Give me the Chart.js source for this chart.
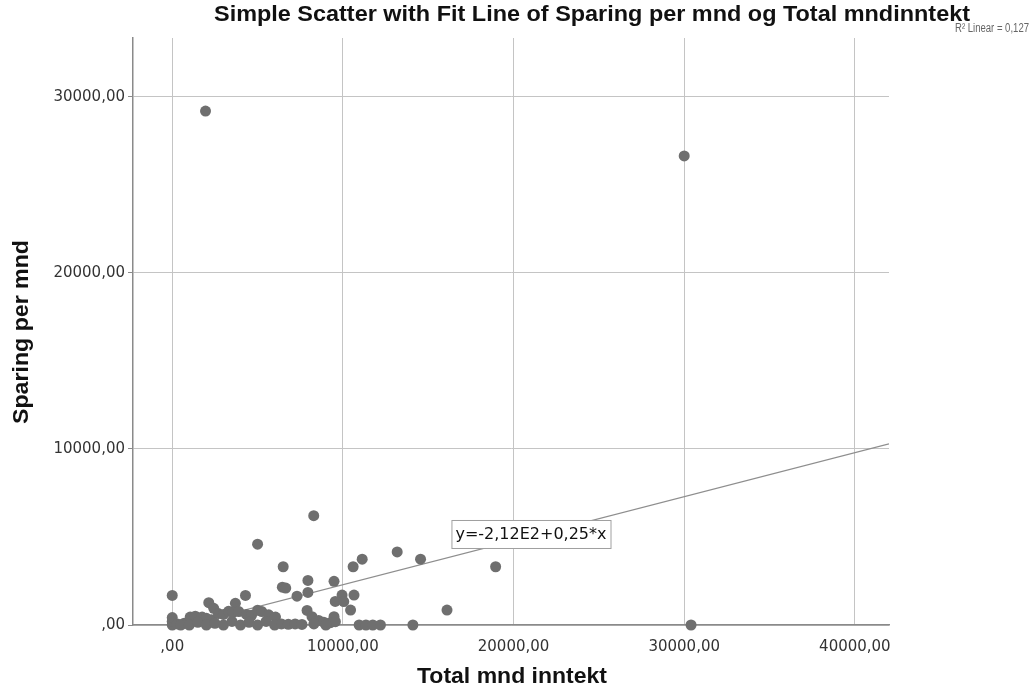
<!DOCTYPE html>
<html>
<head>
<meta charset="utf-8">
<script src="https://cdn.jsdelivr.net/npm/chart.js@4.4.1/dist/chart.umd.min.js"></script>
<style>
  html, body { margin: 0; padding: 0; background: #fff; }
</style>
</head>
<body>
<canvas id="scatter" width="1031" height="690"></canvas>
<script>
// Total mnd inntekt (x) and Sparing per mnd (y)
const income = [
  1950, 30000, 30400,
  8290, 5000, 13180, 11130, 14550, 18950, 6500, 10600, 16100,
  7950, 9480, 6450, 6650, 7950, 7310, 9950, 10650, 0, 4290,
  2140, 3700, 9550, 10050, 2430, 10450, 7900, 8190, 9480, 8580, 8880, 9270, 9560,
  0, 0, 0, 300, 700, 1050, 1350, 1750, 2000, 2300, 2700, 3000, 3300, 3550,
  3900, 4350, 4650, 5000, 5250, 5650, 6050,
  500, 1000, 1500, 2000, 2500, 3000, 3500, 4000, 4500, 5000, 5500, 6000,
  6400, 6800, 7200, 7600, 8300, 9000,
  10950, 11350, 11750, 12200, 14100
];
const savings = [
  29200, 26650, 0,
  6210, 4590, 4150, 3740, 3740, 3310, 3310, 3310, 850,
  2530, 2480, 2150, 2100, 1850, 1640, 1700, 1700, 1680, 1680,
  1270, 1230, 1340, 1330, 950, 850, 830, 470, 470, 260, 160, 130, 190,
  0, 200, 420, 60, 100, 450, 500, 450, 380, 300, 650, 600, 780, 720,
  760, 600, 550, 840, 760, 580, 450,
  0, 0, 150, 0, 100, 0, 200, 0, 150, 0, 200, 0,
  60, 40, 60, 30, 60, 0,
  0, 0, 0, 0, 0
];

const xTicks = [0, 10000, 20000, 30000, 40000];
const yTicks = [0, 10000, 20000, 30000];

// fit line as printed in the chart
const fitIntercept = -212;
const fitSlope = 0.25;
const fitRange = [0, 42000];
const fitLabel = "y=-2,12E2+0,25*x";
const fitLabelAt = [16360, 5966];
const r2Label = "R\u00B2 Linear = 0,127";

const chartTitle = "Simple Scatter with Fit Line of Sparing per mnd og Total mndinntekt";
const xTitle = "Total mnd inntekt";
const yTitle = "Sparing per mnd";

const points = income.map((x, i) => ({ x: x, y: savings[i] }));
const fitPoints = fitRange.map(x => ({ x: x, y: fitIntercept + fitSlope * x }));

function spssNum(v) {
  return v === 0 ? ",00" : v + ",00";
}

// draw text squeezed/stretched to a given width (the original uses a condensed face)
function fitText(ctx, txt, cx, cy, width) {
  let w = ctx.measureText(txt).width;
  ctx.save();
  ctx.translate(cx, cy);
  ctx.scale(width / w, 1);
  ctx.fillText(txt, 0, 0);
  ctx.restore();
}

const textPlugin = {
  id: "texts",
  afterDatasetsDraw(chart) {
    const ctx = chart.ctx;
    const xs = chart.scales.x, ys = chart.scales.y;
    // equation box
    ctx.save();
    ctx.font = '16px "DejaVu Sans", sans-serif';
    let w = ctx.measureText(fitLabel).width;
    let bx = xs.getPixelForValue(fitLabelAt[0]);
    let by = ys.getPixelForValue(fitLabelAt[1]);
    ctx.fillStyle = "#fff";
    ctx.fillRect(bx, by, w + 8, 28);
    ctx.strokeStyle = "#a0a0a0";
    ctx.lineWidth = 1;
    ctx.strokeRect(bx + 0.5, by + 0.5, w + 8, 28);
    ctx.fillStyle = "#111";
    ctx.textBaseline = "middle";
    ctx.fillText(fitLabel, bx + 4, by + 15);
    ctx.restore();
  },
  afterDraw(chart) {
    const ctx = chart.ctx;
    ctx.save();
    ctx.fillStyle = "#111";
    ctx.textAlign = "center";
    ctx.textBaseline = "middle";
    ctx.font = 'bold 22px "Liberation Sans", sans-serif';
    fitText(ctx, chartTitle, 592, 15, 756);
    fitText(ctx, xTitle, 512, 677, 190);
    ctx.save();
    ctx.translate(22, 332);
    ctx.rotate(-Math.PI / 2);
    fitText(ctx, yTitle, 0, 0, 184);
    ctx.restore();
    ctx.font = '12px "Liberation Sans", sans-serif';
    ctx.fillStyle = "#666";
    fitText(ctx, r2Label, 992, 29, 74);
    ctx.restore();
  }
};

new Chart(document.getElementById("scatter"), {
  type: "scatter",
  data: {
    datasets: [
      {
        data: points,
        backgroundColor: "#6f6f6f",
        borderWidth: 0,
        pointRadius: 5.5,
        pointHoverRadius: 5.5,
        clip: false,
        order: 1
      },
      {
        type: "line",
        data: fitPoints,
        borderColor: "#8e8e8e",
        borderWidth: 1.2,
        pointRadius: 0,
        fill: false,
        order: 2
      }
    ]
  },
  options: {
    responsive: false,
    animation: false,
    events: [],
    layout: { padding: { top: 38, right: 142, left: 0, bottom: 0 } },
    plugins: {
      legend: { display: false },
      tooltip: { enabled: false }
    },
    scales: {
      x: {
        type: "linear",
        min: -2300,
        max: 42000,
        afterBuildTicks: s => { s.ticks = xTicks.map(v => ({ value: v })); },
        afterFit: s => { s.height = 65; },
        grid: { color: "#c4c4c4", lineWidth: 1, drawTicks: false },
        border: { color: "#8a8a8a", width: 1.5 },
        ticks: {
          padding: 13,
          color: "#333",
          font: { family: '"DejaVu Sans", sans-serif', size: 15 },
          callback: v => spssNum(v)
        }
      },
      y: {
        type: "linear",
        min: 0,
        max: 33350,
        afterBuildTicks: s => { s.ticks = yTicks.map(v => ({ value: v })); },
        afterFit: s => { s.width = 133; },
        grid: { color: "#c4c4c4", lineWidth: 1, tickLength: 5, tickColor: "#8a8a8a" },
        border: { color: "#8a8a8a", width: 1.5 },
        ticks: {
          padding: 3,
          color: "#333",
          font: { family: '"DejaVu Sans", sans-serif', size: 15 },
          callback: v => spssNum(v)
        }
      }
    }
  },
  plugins: [textPlugin]
});
</script>
</body>
</html>
